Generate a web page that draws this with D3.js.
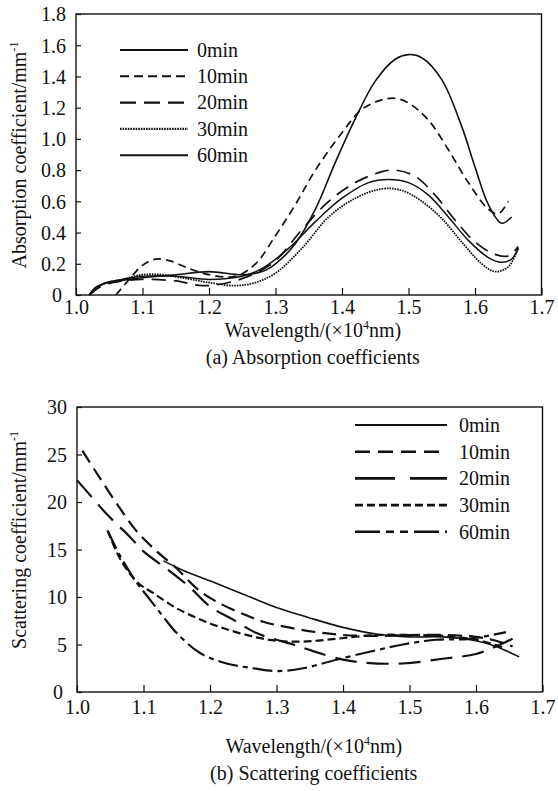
<!DOCTYPE html>
<html>
<head>
<meta charset="utf-8">
<script src="https://cdn.jsdelivr.net/npm/d3@7/dist/d3.min.js"></script>
<style>
  html, body { margin: 0; padding: 0; background: #fff; }
  svg { display: block; }
  svg text { font-family: "Liberation Serif", Tinos, "DejaVu Serif", serif !important; fill: #111; }
</style>
</head>
<body>
<svg id="chart" width="558" height="791" font-family="Liberation Serif, DejaVu Serif, serif"></svg>
<script>
// ---------- DATA ----------
const seriesNames = ["0min", "10min", "20min", "30min", "60min"];
const xTicks = [1.0, 1.1, 1.2, 1.3, 1.4, 1.5, 1.6, 1.7];
const absYTicks = [0, 0.2, 0.4, 0.6, 0.8, 1.0, 1.2, 1.4, 1.6, 1.8];
const scatYTicks = [0, 5, 10, 15, 20, 25, 30];

// (a) Absorption coefficients  [wavelength (x10^4 nm), mm^-1]
const abs0min = [[1.02,0],[1.03,0.05],[1.05,0.08],[1.08,0.1],[1.1,0.11],[1.15,0.13],[1.2,0.15],[1.25,0.13],[1.28,0.15],[1.3,0.2],[1.33,0.33],[1.36,0.55],[1.39,0.85],[1.42,1.13],[1.45,1.37],[1.48,1.51],[1.5,1.54],[1.52,1.52],[1.55,1.38],[1.58,1.08],[1.6,0.82],[1.62,0.58],[1.64,0.46],[1.655,0.5]];
const abs10min = [[1.06,0],[1.08,0.1],[1.1,0.19],[1.12,0.23],[1.14,0.22],[1.17,0.17],[1.2,0.13],[1.24,0.12],[1.27,0.2],[1.3,0.38],[1.33,0.58],[1.36,0.8],[1.4,1.04],[1.43,1.19],[1.46,1.25],[1.48,1.26],[1.5,1.23],[1.53,1.12],[1.56,0.93],[1.59,0.72],[1.62,0.55],[1.635,0.52],[1.65,0.6]];
const abs20min = [[1.02,0],[1.04,0.06],[1.07,0.09],[1.1,0.1],[1.15,0.09],[1.19,0.06],[1.23,0.08],[1.27,0.14],[1.3,0.22],[1.34,0.42],[1.38,0.6],[1.42,0.72],[1.46,0.79],[1.48,0.8],[1.51,0.76],[1.54,0.64],[1.57,0.48],[1.6,0.34],[1.63,0.26],[1.65,0.25],[1.665,0.31]];
const abs30min = [[1.02,0],[1.04,0.07],[1.07,0.1],[1.1,0.13],[1.13,0.13],[1.16,0.11],[1.2,0.08],[1.24,0.06],[1.27,0.08],[1.3,0.14],[1.34,0.3],[1.38,0.5],[1.42,0.62],[1.46,0.68],[1.49,0.67],[1.52,0.6],[1.55,0.49],[1.58,0.34],[1.61,0.2],[1.63,0.15],[1.65,0.18],[1.665,0.3]];
const abs60min = [[1.02,0],[1.04,0.07],[1.07,0.1],[1.1,0.12],[1.15,0.12],[1.2,0.1],[1.25,0.12],[1.28,0.17],[1.32,0.3],[1.36,0.47],[1.4,0.62],[1.44,0.72],[1.47,0.74],[1.5,0.72],[1.53,0.64],[1.56,0.5],[1.59,0.35],[1.62,0.24],[1.64,0.21],[1.655,0.23],[1.665,0.3]];

// (b) Scattering coefficients  [wavelength (x10^4 nm), mm^-1]
const scat0min = [[1.13,13.8],[1.16,12.8],[1.2,11.7],[1.25,10.3],[1.3,8.9],[1.35,7.8],[1.4,6.8],[1.45,6.1],[1.5,5.8],[1.55,5.8],[1.6,5.4],[1.63,4.8],[1.665,3.7]];
const scat10min = [[1.008,25.4],[1.03,23.0],[1.06,19.8],[1.09,16.9],[1.12,14.8],[1.15,13.0],[1.18,10.9],[1.21,9.5],[1.25,8.2],[1.28,7.4],[1.31,6.9],[1.36,6.3],[1.4,6.0],[1.45,5.9],[1.5,6.0],[1.55,6.0],[1.6,5.8],[1.63,5.4],[1.655,4.8]];
const scat20min = [[1.0,22.3],[1.025,20.3],[1.045,18.7],[1.08,16.3],[1.1,14.8],[1.14,12.7],[1.17,11.0],[1.2,9.0],[1.235,7.6],[1.27,6.2],[1.3,5.5],[1.325,5.0],[1.355,4.3],[1.4,3.4],[1.43,3.1],[1.49,3.0],[1.55,3.5],[1.6,4.0],[1.63,4.8],[1.655,5.6]];
const scat30min = [[1.046,17.0],[1.065,14.0],[1.09,11.6],[1.115,10.4],[1.15,8.8],[1.19,7.5],[1.23,6.5],[1.27,5.75],[1.3,5.4],[1.34,5.3],[1.39,5.6],[1.45,6.0],[1.5,6.0],[1.55,5.9],[1.6,5.5],[1.645,4.6]];
const scat60min = [[1.046,17.0],[1.065,14.3],[1.09,11.5],[1.11,9.7],[1.13,7.9],[1.15,6.2],[1.185,4.1],[1.225,3.0],[1.265,2.5],[1.3,2.2],[1.34,2.5],[1.39,3.4],[1.45,4.4],[1.49,5.0],[1.54,5.5],[1.59,5.6],[1.645,6.3]];

// ---------- STYLES ----------
const absDash = ["none", "8,5", "14,8", "1.6,1", "none"];
const absLegDash = ["none", "9,5", "16,8", "1.6,1", "none"];
const absWidth = [1.6, 1.7, 1.7, 1.8, 1.5];
const scatDash = ["none", "14,7", "22,10", "8,4", "20,5,5,5"];
const scatLegDash = ["none", "15,8", "40,15", "8,4", "25,6,8,6,8,6"];
const scatWidth = [1.6, 2.2, 2.2, 2.2, 2.2];

const svg = d3.select("#chart");
const FONT = 20;

function panel(cfg) {
  const g = svg.append("g");
  const x = d3.scaleLinear().domain([1.0, 1.7]).range([cfg.left, cfg.right]);
  const y = d3.scaleLinear().domain([0, cfg.ymax]).range([cfg.bottom, cfg.top]);

  // x axis (ticks inward)
  const xa = g.append("g").attr("transform", `translate(0,${cfg.bottom})`)
    .call(d3.axisBottom(x).tickValues(xTicks).tickSize(-7).tickPadding(0)
      .tickFormat(d3.format(".1f")));
  xa.attr("font-family", null).attr("font-size", null);
  xa.select(".domain").remove();
  xa.selectAll("line").attr("stroke", "#111").attr("stroke-width", 1.2);
  xa.selectAll("text").attr("dy", null).attr("y", cfg.xLabelDy)
    .style("font-size", FONT + "px").attr("fill", "#111");

  // y axis (ticks inward)
  const ya = g.append("g").attr("transform", `translate(${cfg.left},0)`)
    .call(d3.axisLeft(y).tickValues(cfg.yTicks).tickSize(-5).tickPadding(10)
      .tickFormat(cfg.yFormat));
  ya.attr("font-family", null).attr("font-size", null);
  ya.select(".domain").remove();
  ya.selectAll("line").attr("stroke", "#111").attr("stroke-width", 1.2);
  ya.selectAll("text").style("font-size", FONT + "px").attr("fill", "#111")
    .attr("x", d => d === 0 ? -14 : -10).attr("dy", "0.34em");

  // frame
  g.append("rect").attr("x", cfg.left).attr("y", cfg.top)
    .attr("width", cfg.right - cfg.left).attr("height", cfg.bottom - cfg.top)
    .attr("fill", "none").attr("stroke", "#111").attr("stroke-width", 1.4);

  // curves
  const line = d3.line().x(d => x(d[0])).y(d => y(d[1])).curve(d3.curveCatmullRom.alpha(0.5));
  cfg.series.forEach((s, i) => {
    g.append("path").attr("d", line(s)).attr("fill", "none")
      .attr("stroke", "#111").attr("stroke-width", cfg.widths[i])
      .attr("stroke-dasharray", cfg.dashes[i]);
  });

  // legend
  seriesNames.forEach((n, i) => {
    const ly = cfg.legY + i * cfg.legGap;
    g.append("line").attr("x1", cfg.legX1).attr("x2", cfg.legX2)
      .attr("y1", ly).attr("y2", ly).attr("stroke", "#111")
      .attr("stroke-width", cfg.widths[i] + 0.4).attr("stroke-dasharray", cfg.legDashes[i]);
    g.append("text").attr("x", cfg.legTX).attr("y", ly).attr("dy", "0.34em")
      .style("font-size", FONT + "px").text(n);
  });

  // x label
  const xl = g.append("text").attr("x", (cfg.left + cfg.right) / 2 + 4).attr("y", cfg.xTitleY)
    .attr("text-anchor", "middle").style("font-size", FONT + "px");
  xl.append("tspan").text("Wavelength/(\u00d710");
  xl.append("tspan").text("4").style("font-size", "12px").attr("dy", -8);
  xl.append("tspan").text("nm)").attr("dy", 8);

  // y label
  const yl = g.append("text").attr("transform", `translate(${cfg.yTitleX},${cfg.yTitleCY}) rotate(-90)`)
    .attr("text-anchor", "middle").style("font-size", FONT + "px");
  yl.append("tspan").text(cfg.yTitle);
  yl.append("tspan").text("-1").style("font-size", "12px").attr("dy", -8);

  // caption
  g.append("text").attr("x", (cfg.left + cfg.right) / 2 + 4).attr("y", cfg.capY)
    .attr("text-anchor", "middle").style("font-size", FONT + "px").text(cfg.caption);
}

panel({
  left: 76, right: 541.5, top: 14, bottom: 295, ymax: 1.8,
  yTicks: absYTicks, yFormat: d => d === 0 ? "0" : d3.format(".1f")(d),
  xLabelDy: 19, xTitleY: 337, capY: 364,
  yTitle: "Absorption coefficient/mm", yTitleX: 26, yTitleCY: 155,
  series: [abs0min, abs10min, abs20min, abs30min, abs60min],
  dashes: absDash, legDashes: absLegDash, widths: absWidth,
  legX1: 120, legX2: 188, legTX: 197, legY: 50, legGap: 26.3,
  caption: "(a) Absorption coefficients"
});

panel({
  left: 77, right: 542.5, top: 407, bottom: 692, ymax: 30,
  yTicks: scatYTicks, yFormat: d3.format("d"),
  xLabelDy: 22, xTitleY: 753, capY: 780,
  yTitle: "Scattering coefficient/mm", yTitleX: 26, yTitleCY: 540,
  series: [scat0min, scat10min, scat20min, scat30min, scat60min],
  dashes: scatDash, legDashes: scatLegDash, widths: scatWidth,
  legX1: 355, legX2: 447, legTX: 459, legY: 425, legGap: 26.7,
  caption: "(b) Scattering coefficients"
});
</script>
</body>
</html>
